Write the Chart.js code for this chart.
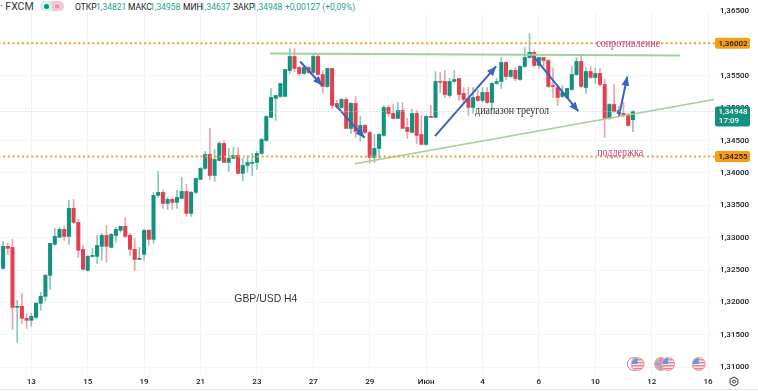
<!DOCTYPE html>
<html>
<head>
<meta charset="utf-8">
<script src="https://cdn.jsdelivr.net/npm/chart.js@4"></script>
<style>
  body { margin: 0; background: #fff; }
  #wrap { position: relative; width: 758px; height: 391px; overflow: hidden; }
  #head { position: absolute; left: 0; top: 0; width: 715px; height: 13px; background: #fff; font: 400 8.5px Roboto, sans-serif; color: #131722; }
  #head span { position: absolute; top: 1.5px; white-space: nowrap; }
  #head .v { color: #2a9d8f; }
  #foot { position: absolute; left: 0; right: 0; top: 389px; height: 1px; background: #e4e6ea; }
</style>
</head>
<body>
<div id="wrap">
  <canvas id="chart" width="758" height="391"></canvas>
  <div id="head">
    <span style="left:0;top:0;font-size:10.5px;color:#333">· FXCM</span>
    <span style="left:40px;top:1px;width:12px;height:10px;background:#d5efe9;border-radius:5px 0 0 5px"></span>
    <span style="left:44px;top:4px;width:5px;height:5px;background:#11907f;border-radius:50%"></span>
    <span style="left:52px;top:1px;width:12px;height:10px;background:#f7c6d0;border-radius:0 5px 5px 0"></span>
    <span style="left:55px;top:1px;color:#e0566f">≈</span>
    <span style="left:75px">ОТКР</span><span class="v" style="left:96px">1,34821</span>
    <span style="left:128px">МАКС</span><span class="v" style="left:150px">1,34958</span>
    <span style="left:183px">МИН</span><span class="v" style="left:200px">1,34637</span>
    <span style="left:233px">ЗАКР</span><span class="v" style="left:252px">1,34948</span>
    <span class="v" style="left:285px">+0,00127 (+0,09%)</span>
  </div>
  <div id="foot"></div>
</div>
<script>
// GBP/USD H4 candles
const opens = [
  1.32526,1.32866,1.32850,1.31924,1.31940,1.31755,1.31724,1.31770,1.31986,1.32094,
  1.32418,1.32897,1.33005,1.33128,1.33020,1.33452,1.33236,1.32820,1.32495,1.32711,
  1.32711,1.32866,1.33035,1.32850,1.33035,1.33113,1.33174,1.33035,1.32820,1.32665,
  1.32742,1.33113,1.32974,1.33653,1.33699,1.33529,1.33591,1.33545,1.33606,1.33714,
  1.33375,1.33699,1.33900,1.34069,1.34286,1.33961,1.34193,1.34455,1.34162,1.34224,
  1.34270,1.33992,1.34116,1.34147,1.34162,1.34301,1.34501,1.34856,1.35150,1.35181,
  1.35181,1.35582,1.35798,1.35628,1.35535,1.35628,1.35551,1.35798,1.35520,1.35335,
  1.35613,1.35073,1.35011,1.35134,1.34687,1.35073,1.34625,1.34733,1.34625,1.34239,
  1.34378,1.34579,1.35011,1.34918,1.34841,1.34964,1.34702,1.34625,1.34918,1.34594,
  1.34440,1.34872,1.34856,1.35412,1.35412,1.35196,1.35412,1.35458,1.35227,1.35150,
  1.35011,1.35181,1.35119,1.35242,1.35088,1.35381,1.35412,1.35705,1.35489,1.35582,
  1.35443,1.35644,1.35782,1.35860,1.35659,1.35782,1.35736,1.35350,1.35319,1.35181,
  1.35165,1.35289,1.35520,1.35721,1.35319,1.35566,1.35474,1.35535,1.35366,1.34841,
  1.35057,1.34918,1.34918,1.34903,1.34821
];
const closes = [
  1.32866,1.32835,1.31924,1.31940,1.31755,1.31724,1.31785,1.31986,1.32094,1.32418,
  1.32912,1.33020,1.33128,1.33020,1.33452,1.33236,1.32804,1.32511,1.32711,1.32727,
  1.32881,1.33035,1.32866,1.33051,1.33128,1.33174,1.33020,1.32820,1.32665,1.32681,
  1.33113,1.32974,1.33653,1.33699,1.33529,1.33591,1.33545,1.33622,1.33714,1.33375,
  1.33699,1.33915,1.34069,1.34286,1.33961,1.34208,1.34455,1.34162,1.34224,1.34270,
  1.33992,1.34116,1.34162,1.34162,1.34301,1.34517,1.34872,1.35165,1.35196,1.35381,
  1.35597,1.35798,1.35613,1.35535,1.35628,1.35551,1.35798,1.35520,1.35335,1.35613,
  1.35042,1.35026,1.35134,1.34687,1.35073,1.34640,1.34733,1.34625,1.34239,1.34378,
  1.34594,1.35011,1.34918,1.34841,1.34964,1.34687,1.34640,1.34918,1.34579,1.34440,
  1.34872,1.34856,1.35412,1.35397,1.35211,1.35412,1.35443,1.35211,1.35134,1.35011,
  1.35165,1.35119,1.35242,1.35088,1.35381,1.35412,1.35705,1.35489,1.35582,1.35458,
  1.35644,1.35782,1.35860,1.35659,1.35782,1.35736,1.35335,1.35335,1.35165,1.35242,
  1.35304,1.35520,1.35721,1.35335,1.35566,1.35474,1.35535,1.35366,1.34841,1.35057,
  1.34949,1.34964,1.34887,1.34733,1.34948
];
const highs = [
  1.32943,1.32912,1.32974,1.32032,1.32140,1.31832,1.31832,1.32002,1.32156,1.32434,
  1.32912,1.33143,1.33159,1.33174,1.33576,1.33591,1.33282,1.32881,1.32727,1.32835,
  1.33035,1.33066,1.33190,1.33066,1.33159,1.33174,1.33313,1.33066,1.32989,1.32850,
  1.33128,1.33128,1.33699,1.34023,1.33745,1.33622,1.33606,1.33730,1.33931,1.33822,
  1.33714,1.33915,1.34085,1.34332,1.34687,1.34363,1.34486,1.34501,1.34378,1.34393,
  1.34393,1.34224,1.34270,1.34301,1.34332,1.34532,1.34887,1.35304,1.35196,1.35381,
  1.35597,1.35921,1.35921,1.35644,1.35659,1.35644,1.35829,1.35844,1.35582,1.35613,
  1.35613,1.35119,1.35150,1.35165,1.35088,1.35181,1.34872,1.34748,1.34640,1.34594,
  1.34610,1.35042,1.35042,1.35057,1.35088,1.35088,1.34841,1.34980,1.34964,1.34887,
  1.34887,1.35042,1.35566,1.35551,1.35582,1.35458,1.35582,1.35458,1.35319,1.35319,
  1.35319,1.35273,1.35319,1.35319,1.35397,1.35458,1.35782,1.35721,1.35597,1.35628,
  1.35659,1.35937,1.36153,1.35890,1.35782,1.35782,1.35751,1.35613,1.35350,1.35350,
  1.35304,1.35644,1.35782,1.35798,1.35628,1.35644,1.35613,1.35613,1.35443,1.35073,
  1.35366,1.35026,1.35088,1.34918,1.34958
];
const lows = [
  1.32511,1.32742,1.31585,1.31384,1.31677,1.31600,1.31631,1.31755,1.31878,1.32017,
  1.32202,1.32881,1.33005,1.32958,1.32897,1.33220,1.32696,1.32511,1.32480,1.32696,
  1.32603,1.32650,1.32619,1.32850,1.32927,1.33082,1.33005,1.32727,1.32495,1.32665,
  1.32650,1.32881,1.32912,1.33622,1.33452,1.33437,1.33437,1.33452,1.33606,1.33329,
  1.33329,1.33684,1.33900,1.34054,1.33900,1.33869,1.34177,1.34162,1.34023,1.34224,
  1.33992,1.33884,1.34008,1.33961,1.34054,1.34286,1.34486,1.34856,1.34810,1.35165,
  1.35181,1.35535,1.35566,1.35505,1.35520,1.35535,1.35535,1.35505,1.35227,1.35319,
  1.34995,1.34995,1.34995,1.34687,1.34610,1.34548,1.34486,1.34610,1.34147,1.34162,
  1.34224,1.34563,1.34887,1.34841,1.34841,1.34687,1.34532,1.34625,1.34455,1.34440,
  1.34424,1.34856,1.34856,1.35242,1.35165,1.35165,1.35397,1.35119,1.35088,1.34887,
  1.34918,1.35103,1.35088,1.35073,1.34964,1.35366,1.35304,1.35443,1.35474,1.35427,
  1.35427,1.35628,1.35767,1.35644,1.35613,1.35613,1.35319,1.35165,1.35042,1.35165,
  1.35150,1.35273,1.35505,1.35319,1.35227,1.35458,1.35381,1.35335,1.34548,1.34826,
  1.34934,1.34903,1.34872,1.34718,1.34637
];

// time axis: candle number of each label
const timeTicks = [6, 18, 30, 42, 54, 66, 78, 90, 102, 114, 126, 138, 150];
const timeLabels = ["13", "15", "19", "21", "23", "27", "29", "Июн", "4", "6", "10", "12", "16"];
const priceTicks = [1.31, 1.315, 1.32, 1.325, 1.33, 1.335, 1.34, 1.345, 1.35, 1.355, 1.36, 1.365];

const resistance = 1.36002;
const support = 1.34255;
const lastPrice = 1.34948;

const topLineX = [56.8, 144];
const topLineY = [1.35844, 1.35813];
const lowLineX = [74.9, 151.3];
const lowLineY = [1.34142, 1.35134];

// arrows: start and end of each one
const arrowX = [[63.2, 67.9], [70.8, 76.9], [91.9, 104.9], [112.1, 122.4], [131, 132.8]];
const arrowY = [[1.35721, 1.35350], [1.35042, 1.34543], [1.34568, 1.35644], [1.35864, 1.34949], [1.34861, 1.35489]];

const noteText = ["сопротивление", "поддержка", "диапазон треугол", "GBP/USD H4"];
const noteX = [133, 131.3, 108.3, 55.9];
const noteY = [1.35991, 1.34316, 1.34964, 1.32048];

const eventX = [134.2, 135, 140, 141.5, 148];
const eventKind = ["ring", "us", "uk", "us", "us"];

const GREEN = "#12917f";
const RED = "#e2404f";
const TICK_FONT = { family: "Roboto", size: 8, weight: "500" };
const fmt = v => v.toFixed(5).replace(".", ",");
const idx = opens.map((_, i) => i);

function flatLine(value, color, width, dash) {
  return {
    type: "line", order: 1, data: [{ x: -1, y: value }, { x: 152, y: value }],
    borderColor: color, borderWidth: width, borderDash: dash, pointRadius: 0
  };
}
function segment(xs, ys, color, width) {
  return {
    type: "line", order: 1, data: xs.map((x, i) => ({ x: x, y: ys[i] })),
    borderColor: color, borderWidth: width, pointRadius: 0
  };
}

const datasets = [
  {
    type: "bar", order: 4, grouped: false, barThickness: 1,
    data: idx.map(i => ({ x: i, y: [lows[i], highs[i]] })),
    backgroundColor: idx.map(i => closes[i] >= opens[i] ? "#8cc7bd" : "#eba3ac")
  },
  {
    type: "bar", order: 3, grouped: false, barThickness: 3.4, minBarLength: 1,
    data: idx.map(i => ({ x: i, y: [opens[i], closes[i]] })),
    backgroundColor: idx.map(i => closes[i] >= opens[i] ? GREEN : RED)
  },
  flatLine(lastPrice, "#a9d6cf", 1, [1, 2]),
  flatLine(resistance, "#e3a52f", 2, [2, 2.7]),
  flatLine(support, "#e3a52f", 2, [2, 2.7]),
  segment(topLineX, topLineY, "#a3cf9b", 2),
  segment(lowLineX, lowLineY, "#a3cf9b", 1.6)
];
arrowX.forEach((xs, i) => datasets.push(segment(xs, arrowY[i], "#3a62c4", 2)));

function priceBox(ctx, x, y, w, h, color) {
  ctx.fillStyle = color;
  ctx.beginPath();
  ctx.roundRect(x, y, w, h, 2);
  ctx.fill();
}

function drawFlag(ctx, x, y, kind) {
  ctx.save();
  if (kind === "ring") {
    ctx.strokeStyle = "#b07fc8";
    ctx.lineWidth = 1;
    ctx.beginPath();
    ctx.arc(x, y, 6.5, 0, Math.PI * 2);
    ctx.stroke();
    ctx.restore();
    return;
  }
  ctx.beginPath();
  ctx.arc(x, y, 6.5, 0, Math.PI * 2);
  ctx.fillStyle = "#fbe4e6";
  ctx.fill();
  ctx.clip();
  ctx.fillStyle = "#e8848e";
  if (kind === "us") {
    for (let s = -5; s < 7; s += 3) ctx.fillRect(x - 7, y + s, 14, 1.4);
    ctx.fillStyle = "#5b9be0";
    ctx.fillRect(x - 6, y - 6, 6, 6);
  } else {
    ctx.fillStyle = "#a8b4d8";
    ctx.fillRect(x - 7, y - 7, 14, 14);
    ctx.fillStyle = "#e8848e";
    ctx.fillRect(x - 7, y - 1, 14, 2);
    ctx.fillRect(x - 1, y - 7, 2, 14);
  }
  ctx.restore();
  ctx.strokeStyle = "#eda6ad";
  ctx.lineWidth = 1.2;
  ctx.beginPath();
  ctx.arc(x, y, 6.5, 0, Math.PI * 2);
  ctx.stroke();
}

const overlay = {
  id: "overlay",
  afterDraw(chart) {
    const ctx = chart.ctx;
    const xs = chart.scales.x;
    const ys = chart.scales.y;

    // arrow heads
    arrowX.forEach((ax, i) => {
      const x1 = xs.getPixelForValue(ax[0]), y1 = ys.getPixelForValue(arrowY[i][0]);
      const x2 = xs.getPixelForValue(ax[1]), y2 = ys.getPixelForValue(arrowY[i][1]);
      const a = Math.atan2(y2 - y1, x2 - x1);
      ctx.fillStyle = "#3a62c4";
      ctx.beginPath();
      ctx.moveTo(x2, y2);
      ctx.lineTo(x2 - 10 * Math.cos(a - 0.4), y2 - 10 * Math.sin(a - 0.4));
      ctx.lineTo(x2 - 10 * Math.cos(a + 0.4), y2 - 10 * Math.sin(a + 0.4));
      ctx.fill();
    });

    // notes on the chart, squeezed to the width they have in the picture
    ctx.textAlign = "center";
    ctx.textBaseline = "middle";
    const noteWidth = [64, 46, 74, 63];
    noteText.forEach((t, i) => {
      ctx.font = i === 3 ? "10.5px 'Liberation Sans'" : "12px 'Liberation Serif'";
      ctx.fillStyle = i < 2 ? "#c2448a" : "#333";
      ctx.fillText(t, xs.getPixelForValue(noteX[i]), ys.getPixelForValue(noteY[i]), noteWidth[i]);
    });

    // calendar icons
    eventX.forEach((v, i) => drawFlag(ctx, xs.getPixelForValue(v), 364, eventKind[i]));

    // price labels on the right axis
    ctx.font = "500 8px Roboto";
    [resistance, support].forEach(v => {
      const y = ys.getPixelForValue(v);
      priceBox(ctx, 715, y - 5.5, 35, 11, "#f59d14");
      ctx.fillStyle = "#131722";
      ctx.fillText(fmt(v), 733, y + 0.5);
    });
    const ly = ys.getPixelForValue(lastPrice);
    priceBox(ctx, 715, ly - 5, 35, 20, "#12917f");
    ctx.fillStyle = "#fff";
    ctx.fillText(fmt(lastPrice), 733, ly);
    ctx.fillText("17:09", 729, ly + 9);

    // settings icon
    ctx.strokeStyle = "#333";
    ctx.lineWidth = 1;
    ctx.beginPath();
    for (let i = 0; i < 6; i++) {
      const a = Math.PI / 6 + i * Math.PI / 3;
      ctx.lineTo(734 + 4.5 * Math.cos(a), 381.5 + 4.5 * Math.sin(a));
    }
    ctx.closePath();
    ctx.stroke();
    ctx.beginPath();
    ctx.arc(734, 381.5, 1.5, 0, Math.PI * 2);
    ctx.stroke();
  }
};

new Chart(document.getElementById("chart"), {
  data: { datasets: datasets },
  plugins: [overlay],
  options: {
    responsive: false,
    animation: false,
    parsing: { xAxisKey: "x", yAxisKey: "y" },
    layout: { padding: 0 },
    plugins: { legend: { display: false }, tooltip: { enabled: false } },
    scales: {
      x: {
        type: "linear", min: -0.66, max: 151.47, offset: false,
        border: { display: false },
        grid: { color: "#f1f3f6", drawTicks: false, offset: false },
        afterBuildTicks(scale) { scale.ticks = timeTicks.map(v => ({ value: v })); },
        afterFit(scale) { scale.height = 17; scale.paddingLeft = 0; scale.paddingRight = 0; },
        ticks: {
          autoSkip: false, maxRotation: 0, padding: 3,
          color: "#131722", font: TICK_FONT,
          callback: (v) => timeLabels[timeTicks.indexOf(v)]
        }
      },
      y: {
        position: "right", min: 1.30895, max: 1.3667,
        border: { display: false },
        grid: { color: "#f5f6f8", drawTicks: false },
        afterBuildTicks(scale) { scale.ticks = priceTicks.map(v => ({ value: v })); },
        afterFit(scale) { scale.width = 43; scale.paddingTop = 0; scale.paddingBottom = 0; },
        ticks: {
          padding: 5, color: "#131722", font: TICK_FONT,
          callback: (v) => fmt(v)
        }
      }
    }
  }
});
</script>
</body>
</html>
